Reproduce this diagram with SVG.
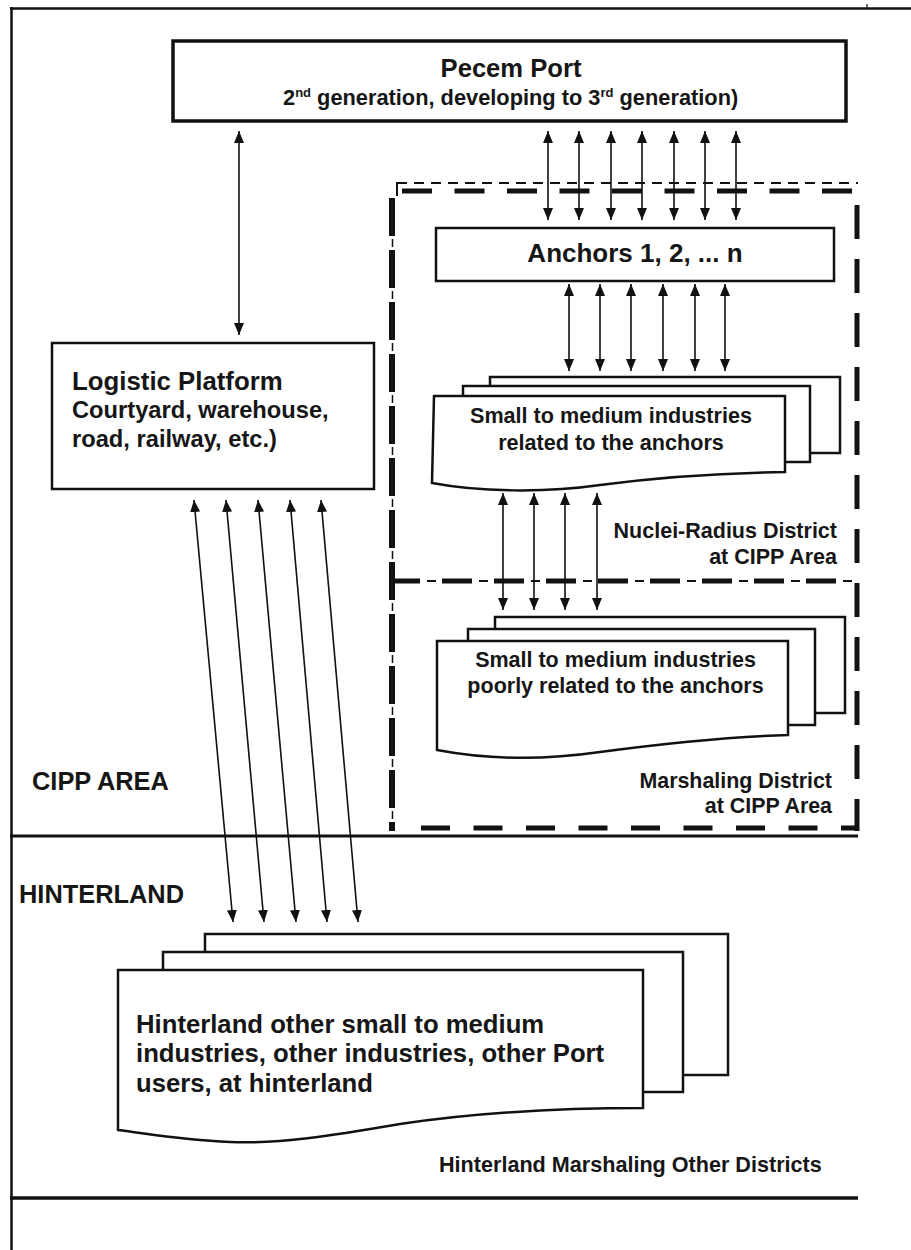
<svg xmlns="http://www.w3.org/2000/svg" width="911" height="1250" viewBox="0 0 911 1250">
<style>
.t{font-family:"Liberation Sans",Arial,sans-serif;font-weight:bold;fill:#161616}
.box{fill:#fff;stroke:#111;stroke-width:2.5}
.ln{stroke:#111;fill:none}
.ar{stroke:#111;stroke-width:1.6;fill:none;marker-start:url(#ah);marker-end:url(#ah)}
.thk{stroke:#111;stroke-width:5;fill:none}
.thn{stroke:#111;stroke-width:2;fill:none}
</style>
<defs>
<marker id="ah" viewBox="0 0 12 10" refX="12" refY="5" markerWidth="12" markerHeight="10" markerUnits="userSpaceOnUse" orient="auto-start-reverse"><path d="M0,0 L12,5 L0,10 z" fill="#111"/></marker>
</defs>
<rect width="911" height="1250" fill="#fff"/>

<g id="frame">
<line class="ln" x1="11.5" y1="7" x2="11.5" y2="1250" stroke-width="2.5"/>
<line class="ln" x1="10" y1="8.5" x2="911" y2="8.5" stroke-width="2.5"/>
<line class="ln" x1="867" y1="4" x2="867" y2="8" stroke-width="1.2"/>
<line class="ln" x1="10" y1="836" x2="858" y2="836" stroke-width="3"/>
<line class="ln" x1="10" y1="1198" x2="858" y2="1198" stroke-width="3.5"/>
</g>

<g id="district-borders">
<line class="thn" x1="397" y1="183" x2="858" y2="183" stroke-dasharray="10 7"/>
<line class="thn" x1="397" y1="182" x2="397" y2="196"/>
<line class="thk" x1="402" y1="191" x2="858" y2="191" stroke-dasharray="30 22.5"/>
<path d="M392,198 V831" stroke="#111" stroke-width="6" fill="none" stroke-dasharray="38 14"/>
<path d="M392.5,198 V831" stroke="#111" stroke-width="1.5" fill="none" stroke-dasharray="0 41 8 3"/>
<path d="M857,205 V831" stroke="#111" stroke-width="5" fill="none" stroke-dasharray="34 20"/>
<line class="thk" x1="390" y1="581" x2="858" y2="581" stroke-dasharray="30 22"/>
<line class="thn" x1="390" y1="581" x2="858" y2="581" stroke-dasharray="0 37 9 6"/>
<line class="thk" x1="421" y1="828" x2="858" y2="828" stroke-dasharray="29 23.5"/>
</g>

<g id="pecem-port">
<rect x="173" y="41" width="673" height="80" fill="#fff" stroke="#111" stroke-width="3.5"/>
<text class="t" x="511" y="77" font-size="25.6" text-anchor="middle">Pecem Port</text>
<text class="t" x="283" y="105" font-size="21.8">2<tspan font-size="13" dy="-8">nd</tspan><tspan dy="8"> generation, developing to 3</tspan><tspan font-size="13" dy="-8">rd</tspan><tspan dy="8"> generation)</tspan></text>
</g>

<g id="anchors">
<rect class="box" x="436" y="228" width="398" height="53"/>
<text class="t" x="635" y="262" font-size="26" text-anchor="middle">Anchors 1, 2, ... n</text>
</g>

<g id="smi-related">
<rect class="box" x="490" y="377" width="350" height="76"/>
<rect class="box" x="463" y="386" width="347" height="76"/>
<path class="box" d="M434,396 H785 V472 C720,473 660,477 600,485 C545,493 480,492 432,483 Z"/>
<text class="t" x="611" y="423" font-size="21.6" text-anchor="middle">Small to medium industries</text>
<text class="t" x="611" y="450" font-size="21.6" text-anchor="middle">related to the anchors</text>
</g>

<g id="nuclei-label">
<text class="t" x="837" y="538" font-size="21.5" text-anchor="end">Nuclei-Radius District</text>
<text class="t" x="837" y="564" font-size="21.5" text-anchor="end">at CIPP Area</text>
</g>

<g id="smi-poorly">
<rect class="box" x="495" y="617" width="350" height="96"/>
<rect class="box" x="468" y="629" width="347" height="96"/>
<path class="box" d="M437,641 H788 V735 C720,737 660,744 600,752 C545,760 490,760 437,750 Z"/>
<text class="t" x="615.5" y="667" font-size="21.5" text-anchor="middle">Small to medium industries</text>
<text class="t" x="615.5" y="693" font-size="21.5" text-anchor="middle">poorly related to the anchors</text>
</g>

<g id="marshaling-label">
<text class="t" x="832" y="788" font-size="21.4" text-anchor="end">Marshaling District</text>
<text class="t" x="832" y="813" font-size="21.4" text-anchor="end">at CIPP Area</text>
</g>

<g id="logistic-platform">
<rect class="box" x="52" y="343" width="322" height="146"/>
<text class="t" x="72" y="390" font-size="25.8">Logistic Platform</text>
<text class="t" x="72" y="418" font-size="23.7">Courtyard, warehouse,</text>
<text class="t" x="72" y="447" font-size="23.7">road, railway, etc.)</text>
</g>

<g id="area-labels">
<text class="t" x="32" y="790" font-size="25.4">CIPP AREA</text>
<text class="t" x="19" y="903" font-size="25.4">HINTERLAND</text>
</g>

<g id="hinterland-industries">
<rect class="box" x="205" y="934" width="523" height="141"/>
<rect class="box" x="163" y="952" width="520" height="140"/>
<path class="box" d="M118,970 H643 V1108 C560,1108 480,1112 400,1124 C330,1136 280,1144 230,1142 C180,1140 150,1134 118,1130 Z"/>
<text class="t" x="136" y="1033" font-size="25.7">Hinterland other small to medium</text>
<text class="t" x="136" y="1062" font-size="25.7">industries, other industries, other Port</text>
<text class="t" x="136" y="1092" font-size="25.7">users, at hinterland</text>
</g>

<g id="hinterland-label">
<text class="t" x="439" y="1172" font-size="21.6">Hinterland Marshaling Other Districts</text>
</g>

<g id="connectors">
<line class="ar" x1="239" y1="131" x2="239" y2="335"/>
<line class="ar" x1="548" y1="131" x2="548" y2="220"/>
<line class="ar" x1="579" y1="131" x2="579" y2="220"/>
<line class="ar" x1="611" y1="131" x2="611" y2="220"/>
<line class="ar" x1="642" y1="131" x2="642" y2="220"/>
<line class="ar" x1="674" y1="131" x2="674" y2="220"/>
<line class="ar" x1="705" y1="131" x2="705" y2="220"/>
<line class="ar" x1="736" y1="131" x2="736" y2="220"/>
<line class="ar" x1="569" y1="284" x2="569" y2="371"/>
<line class="ar" x1="600" y1="284" x2="600" y2="371"/>
<line class="ar" x1="631" y1="284" x2="631" y2="371"/>
<line class="ar" x1="663" y1="284" x2="663" y2="371"/>
<line class="ar" x1="695" y1="284" x2="695" y2="371"/>
<line class="ar" x1="725" y1="284" x2="725" y2="371"/>
<line class="ar" x1="503" y1="493" x2="503" y2="610"/>
<line class="ar" x1="534" y1="493" x2="534" y2="610"/>
<line class="ar" x1="565" y1="493" x2="565" y2="610"/>
<line class="ar" x1="597" y1="493" x2="597" y2="610"/>
<line class="ar" x1="194" y1="500" x2="233" y2="922"/>
<line class="ar" x1="226" y1="500" x2="264" y2="922"/>
<line class="ar" x1="258" y1="500" x2="296" y2="922"/>
<line class="ar" x1="290" y1="500" x2="327" y2="922"/>
<line class="ar" x1="321" y1="500" x2="358" y2="922"/>
</g>
</svg>
